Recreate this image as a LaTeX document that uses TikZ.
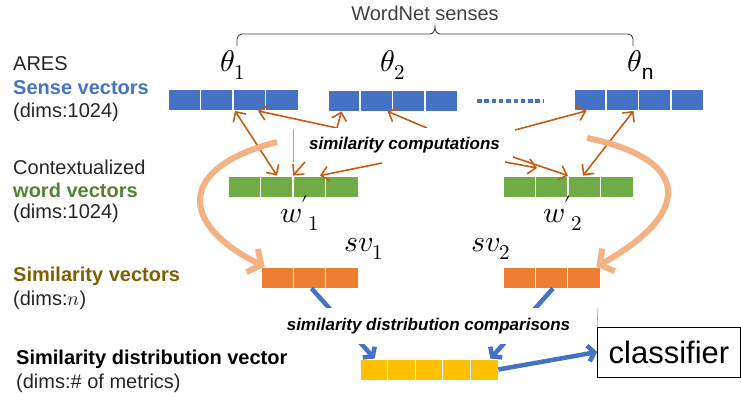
\documentclass[tikz,border=0pt]{standalone}
\usepackage{fontspec}
\usepackage{unicode-math}
\setmainfont{Liberation Sans}
\setmathfont{Latin Modern Math}
\usetikzlibrary{arrows.meta,calc}
\definecolor{vblue}{HTML}{4472C4}
\definecolor{vgreen}{HTML}{70AD47}
\definecolor{vorange}{HTML}{ED7D31}
\definecolor{vyellow}{HTML}{FFC000}
\definecolor{lorange}{HTML}{F4B183}
\definecolor{dorange}{HTML}{C55A11}
\definecolor{tblue}{HTML}{4472C4}
\definecolor{tgreen}{HTML}{548235}
\definecolor{tbrown}{HTML}{7F6000}
\definecolor{tdark}{HTML}{262626}
\newcommand\cellsplit[2]{%
  \pgfmathtruncatemacro\lastk{#2-1}%
  \foreach \k in {1,...,\lastk}{%
    \draw[cellsep] ($(#1.north west)!{\k/#2}!(#1.north east)$) -- ($(#1.south west)!{\k/#2}!(#1.south east)$);}}
\begin{document}
\begin{tikzpicture}[x=1pt,y=-1pt,
  vec/.style={rectangle,inner sep=0pt,draw=white,line width=0.8pt,minimum height=21pt},
  cellsep/.style={white,line width=1.2pt},
  lbl/.style={anchor=west,inner sep=0pt,text=tdark,font=\fontsize{20}{23}\selectfont},
  blbl/.style={anchor=west,inner sep=0pt,font=\fontsize{20}{23}\selectfont\bfseries},
  mlbl/.style={inner sep=0pt,font=\fontsize{30}{33}\selectfont},
  simarr/.style={dorange,line width=1.6pt,-{Straight Barb[length=7.5pt,width=15pt]}},
  simarr2/.style={dorange,line width=1.6pt,{Straight Barb[length=7.5pt,width=15pt]}-{Straight Barb[length=7.5pt,width=15pt]}},
  bigarr/.style={lorange,line width=6pt,-{Straight Barb[length=10pt,width=26pt]}},
  cmparr/.style={vblue,line width=4.5pt,-{Straight Barb[length=6pt,width=16pt]}},
  itl/.style={inner sep=0pt,font=\fontsize{17}{20}\selectfont\bfseries\itshape},
  thinln/.style={gray!70,line width=0.7pt}]
\useasboundingbox (0,0) rectangle (741,401);

% left labels
\node[lbl] (ares) at (13,64) {ARES};
\node[blbl,text=tblue] (senselbl) at (13,88) {Sense vectors};
\node[lbl] (dims1) at (13,112) {(dims:1024)};
\node[lbl] (ctx) at (13,167) {Contextualized};
\node[blbl,text=tgreen] (wordlbl) at (13,190) {word vectors};
\node[lbl] (dims2) at (13,213) {(dims:1024)};
\node[blbl,text=tbrown] (simlbl) at (13,276) {Similarity vectors};
\node[lbl] (dims3) at (13,300) {(dims:$n$)};
\node[blbl,text=black] (sdlbl) at (16,359) {Similarity distribution vector};
\node[lbl] (dims4) at (16,383) {(dims:\# of metrics)};

% WordNet brace
\node[inner sep=0pt,text=black!75,font=\fontsize{20}{23}\selectfont] (wn) at (425,13) {WordNet senses};
\draw[black!75,line width=0.9pt] (237,46) -- (237,39) to[out=90,in=180] (242,34) -- (430,34) to[out=0,in=-90] (435,27) to[out=-90,in=180] (440,34) -- (628,34) to[out=0,in=90] (633,39) -- (633,46);

% sense vectors
\node[vec,fill=vblue,minimum width=130pt] (s1) at (233,100) {};
\node[vec,fill=vblue,minimum width=129pt] (s2) at (392.5,100.5) {};
\node[vec,fill=vblue,minimum width=129pt] (s3) at (638.5,100) {};
\cellsplit{s1}{4}\cellsplit{s2}{4}\cellsplit{s3}{4}
\coordinate (d1) at (477,101);
\coordinate (d2) at (543,101);
\draw[vblue,line width=4.5pt,dash pattern=on 4.5pt off 2.8pt] (d1) -- (d2);
\node[mlbl] (t1) at (233,65) {$\theta_1$};
\node[mlbl] (t2) at (393,65) {$\theta_2$};
\node[mlbl] (tn) at (641,65) {$\theta_{\mathup{n}}$};

% word vectors
\node[vec,fill=vgreen,minimum width=130pt] (g1) at (293,186.5) {};
\node[vec,fill=vgreen,minimum width=130pt] (g2) at (568,186.5) {};
\cellsplit{g1}{4}\cellsplit{g2}{4}
\node[mlbl] (w1) at (300,213) {${w'}_1$};
\node[mlbl] (w2) at (563,213) {${w'}_2$};

% similarity vectors
\node[vec,fill=vorange,minimum width=97pt] (o1) at (309.5,277.5) {};
\node[vec,fill=vorange,minimum width=97pt] (o2) at (551.5,277.5) {};
\cellsplit{o1}{3}\cellsplit{o2}{3}
\node[mlbl] (sv1) at (364,249) {$sv_1$};
\node[mlbl] (sv2) at (491,249) {$sv_2$};

% similarity distribution vector
\node[vec,fill=vyellow,minimum width=138pt] (yv) at (429,369.5) {};
\cellsplit{yv}{5}

% classifier
\node[draw=black,line width=0.8pt,minimum width=143pt,minimum height=50pt,inner sep=0pt,font=\fontsize{31}{34}\selectfont] (cl) at (669,352) {classifier};

% similarity computation arrows
\coordinate (v) at (337,128);
\coordinate (a3) at (427,128);
\coordinate (a4) at (305,162);
\coordinate (a5) at (382,163);
\coordinate (a6) at (515,130);
\coordinate (a8s) at (505,162);
\coordinate (a8e) at (537,168);
\coordinate (a9) at (513,157);
\draw[simarr2] ([xshift=2pt]s1.south) -- ([xshift=-16pt]g1.north);
\draw[simarr2] ([xshift=25pt]s1.south) -- (v) -- ([xshift=-51pt]s2.south);
\draw[simarr] (a3) -- ([xshift=-5pt]s2.south);
\draw[simarr] (a4) -- (g1.north);
\draw[simarr] (a5) -- ([xshift=27pt]g1.north);
\draw[simarr] (a6) -- ([xshift=-52pt]s3.south);
\draw[simarr2] ([xshift=-5pt]s3.south) -- ([xshift=15pt]g2.north);
\draw[simarr] (a8s) -- (a8e);
\draw[simarr] (a9) -- ([xshift=0pt]g2.north);

% big curved arrows
\coordinate (c1) at (277,142);
\coordinate (c2) at (587,138);
\draw[bigarr] (c1) .. controls (175,168) and (180,225) .. ([xshift=4pt]o1.north west);
\draw[bigarr] (c2) .. controls (695,160) and (690,215) .. ([xshift=-4pt]o2.north east);

% comparison arrows
\draw[cmparr] ([xshift=2pt]o1.south) -- ([xshift=15pt]yv.north west);
\draw[cmparr] ([xshift=1.5pt]o2.south) -- ([xshift=-8pt]yv.north east);
\draw[cmparr] (yv.east) -- (cl.west);

% text boxes
\node[itl,fill=white,inner xsep=4pt,inner ysep=9pt] (simc) at (404.5,145) {similarity computations};
\node[itl,fill=white,inner xsep=4pt,inner ysep=10pt] (simd) at (428.5,326) {similarity distribution comparisons};
\coordinate (gl1a) at (293,129);
\coordinate (gl1b) at (293,162);
\coordinate (gl2a) at (598,308);
\draw[thinln] (gl1a) -- (gl1b);
\draw[thinln] (gl2a) -- (cl.north west);
\end{tikzpicture}
\end{document}
